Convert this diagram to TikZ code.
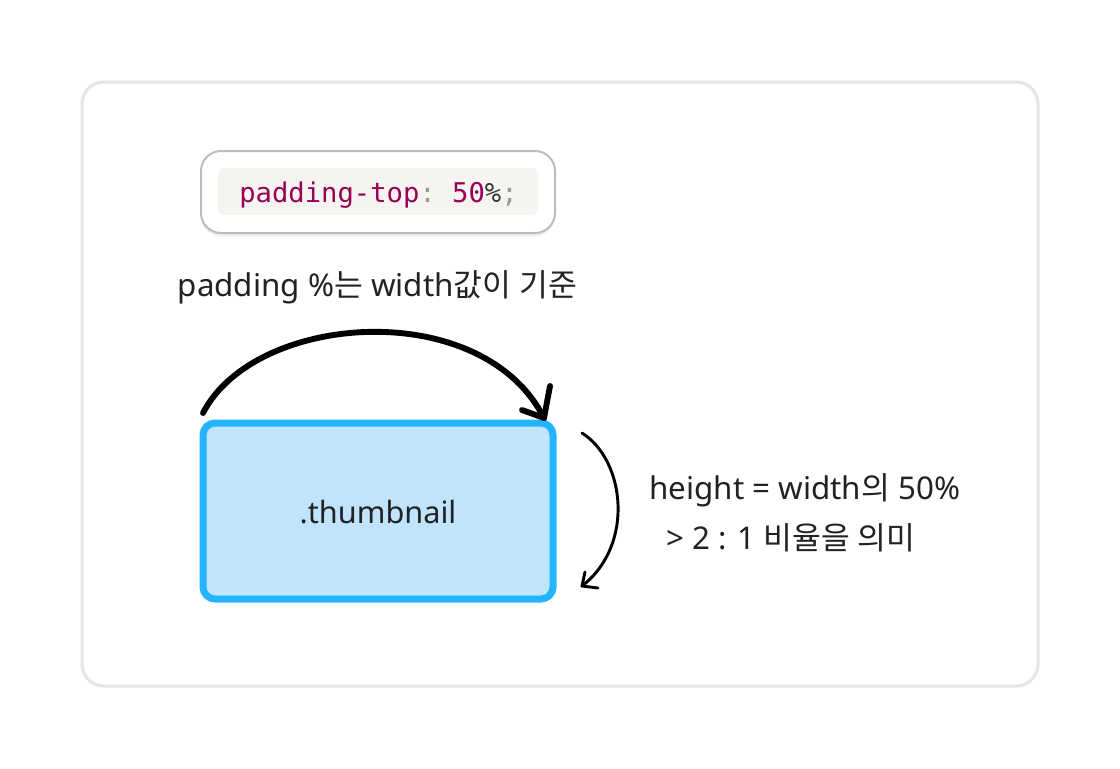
\documentclass[tikz,border=0pt]{standalone}
\usepackage{fontspec}
\setmainfont{Noto Sans}
\newfontfamily\kr{Noto Sans CJK KR}
\newfontfamily\mono{DejaVu Sans Mono}
\usetikzlibrary{shadows}
\definecolor{framegray}{HTML}{E6E6E6}
\definecolor{codeborder}{HTML}{BDBDBD}
\definecolor{codebg}{HTML}{F5F4F1}
\definecolor{codeprop}{HTML}{990055}
\definecolor{codepunct}{HTML}{999999}
\definecolor{codedark}{HTML}{333333}
\definecolor{thumbline}{HTML}{22B4FF}
\definecolor{thumbfill}{HTML}{C0E4FC}
\definecolor{txt}{HTML}{222222}
\tikzset{
  framebox/.style={draw=framegray, line width=2.25pt, rounded corners=16.5pt, fill=white,
    minimum width=717pt, minimum height=453pt, inner sep=0pt},
  codebox/.style={draw=codeborder, line width=1.5pt, rounded corners=15pt, fill=white,
    minimum width=265.5pt, minimum height=61.5pt, inner sep=0pt,
    drop shadow={opacity=0.12, shadow xshift=0pt, shadow yshift=-2.5pt}},
  codeinner/.style={fill=codebg, rounded corners=4pt,
    minimum width=240pt, minimum height=35.25pt, inner sep=0pt},
  codetext/.style={font=\mono\fontsize{20.4pt}{24pt}\selectfont, inner sep=0pt, anchor=base},
  thumbbox/.style={draw=thumbline, fill=thumbfill, line width=5.25pt, rounded corners=9pt,
    minimum width=262.5pt, minimum height=132pt, inner sep=0pt},
  label/.style={text=txt, font=\fontsize{23.5pt}{28pt}\selectfont, inner sep=0pt},
  bigarrow/.style={line width=4.4pt, line cap=round, line join=round, draw=black},
  smallarrow/.style={line width=2.2pt, line cap=round, line join=round, draw=black},
}
\begin{document}
\begin{tikzpicture}[x=0.75pt,y=-0.75pt]
\useasboundingbox (0,0) rectangle (1120,768);
\fill[white] (0,0) rectangle (1120,768);

\node[framebox] (frame) at (560,384) {};

\node[codebox] (code) at (378,192) {};
\node[codeinner] (codebg) at (378,191.5) {};
\node[codetext] (codetxt) at (378.5,202) {\color{codeprop}padding-top\color{codepunct}:\ \color{codeprop}50\color{codedark}\%\color{codepunct};};

\node[label, anchor=base] (lbltop) at (377.5,296) {padding \%{\kr 는} width{\kr 값이} {\kr 기준}};

\node[thumbbox] (thumb) at (378,511) {};
\node[label, anchor=base, font=\fontsize{23pt}{28pt}\selectfont] (thumbtxt) at (378,523) {.thumbnail};

\node[label, anchor=base west] (lblr1) at (649,499) {height = width{\kr 의} 50\%};
\node[label, anchor=base west] (lblr2) at (666,549) {> 2 : 1 {\kr 비율을 의미}};

% top arrow
\coordinate (ta) at (203,413);
\coordinate (tb) at (544,418);
\draw[bigarrow] (ta) .. controls (255,312) and (482,296) .. (tb);
\draw[bigarrow] (522,410) -- (tb) -- (550,386);

% right arrow
\coordinate (ra) at (582,433);
\coordinate (rb) at (582,586);
\draw[smallarrow] (ra) .. controls (625,460) and (635,545) .. (rb);
\draw[smallarrow] (585,572) -- (rb) -- (598,588);
\end{tikzpicture}
\end{document}
